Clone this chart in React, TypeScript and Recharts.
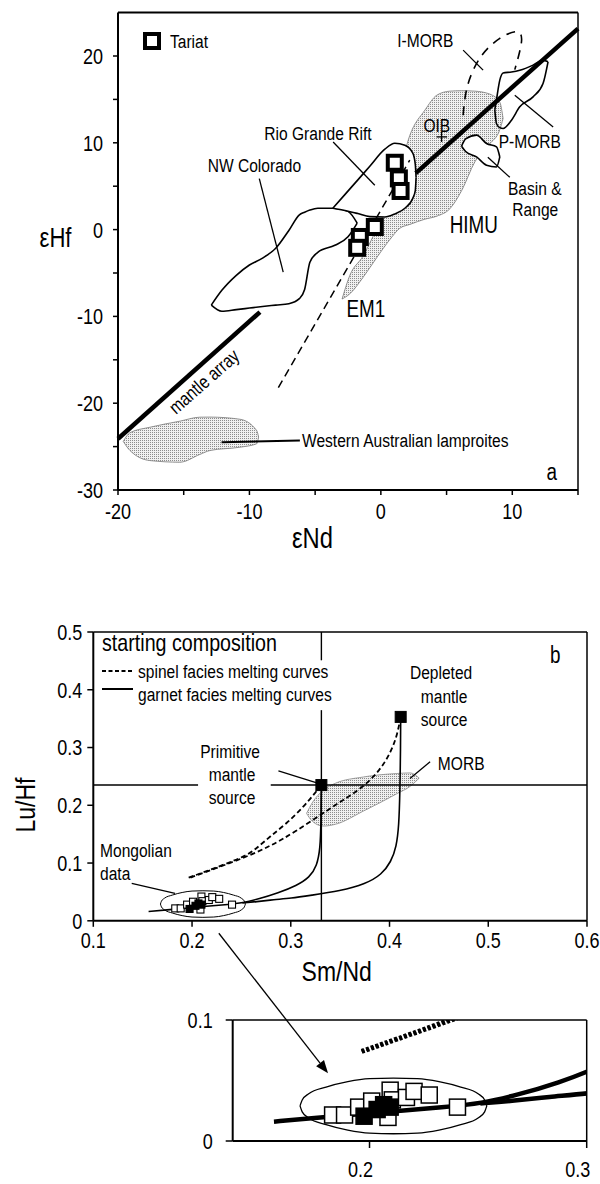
import React from "react";
import {
  ComposedChart,
  XAxis,
  YAxis,
  Line,
  Area,
  Scatter,
  ReferenceLine,
  Legend,
} from "recharts";

const FONT = '"Liberation Sans", Arial, sans-serif';
const SQUEEZE = 0.82; // the figure uses a condensed face

// ---------- panel a : eNd vs eHf ----------
const ticksNd = [-20, -15, -10, -5, 0, 5, 10, 15];
const ticksHf = [-30, -25, -20, -15, -10, -5, 0, 5, 10, 15, 20];

const mantleArrayLow = [
  { x: -20, y: -24.1 },
  { x: -9.2, y: -9.5 },
];
const mantleArrayHigh = [
  { x: 2.66, y: 6.5 },
  { x: 15, y: 23.15 },
];
const tariatTrend = [
  { x: -7.8, y: -18.2 },
  { x: 2.2, y: 8.0 },
];
const tariat = [
  { x: 1.06, y: 7.7 },
  { x: 1.37, y: 5.9 },
  { x: 1.5, y: 4.45 },
  { x: -0.46, y: 0.3 },
  { x: -1.6, y: -0.85 },
  { x: -1.8, y: -2.1 },
];

// fields as bands: lo / hi eHf for each eNd
const oibField = [
  { x: -2.95, lo: -8.0, hi: -8.0 },
  { x: -2.36, lo: -7.4, hi: -5.27 },
  { x: -1.37, lo: -5.54, hi: -3.08 },
  { x: -0.3, lo: -3.2, hi: 0.15 },
  { x: 0.68, lo: -1.16, hi: 3.38 },
  { x: 1.44, lo: 0.15, hi: 6.84 },
  { x: 2.21, lo: 0.6, hi: 10.88 },
  { x: 3.35, lo: 1.2, hi: 13.76 },
  { x: 4.26, lo: 1.55, hi: 15.49 },
  { x: 5.25, lo: 2.4, hi: 15.95 },
  { x: 6.16, lo: 4.53, hi: 16.0 },
  { x: 7.15, lo: 7.8, hi: 15.95 },
  { x: 8.29, lo: 9.88, hi: 15.61 },
  { x: 9.05, lo: 11.5, hi: 14.68 },
  { x: 9.3, lo: 12.8, hi: 12.8 },
];
const nwColorado = [
  { x: -12.9, lo: -8.7, hi: -8.7 },
  { x: -12.1, lo: -9.4, hi: -7.0 },
  { x: -11, lo: -9.22, hi: -5.27 },
  { x: -10, lo: -9.04, hi: -4.08 },
  { x: -9, lo: -8.86, hi: -3.28 },
  { x: -8, lo: -8.7, hi: -2.15 },
  { x: -7, lo: -8.54, hi: -0.1 },
  { x: -6.2, lo: -7.96, hi: 1.7 },
  { x: -5.8, lo: -6.9, hi: 2.0 },
  { x: -5.4, lo: -3.77, hi: 2.25 },
  { x: -4.8, lo: -2.62, hi: 2.46 },
  { x: -3.5, lo: -1.81, hi: 2.46 },
  { x: -2.5, lo: -0.83, hi: 2.1 },
  { x: -1.8, lo: 0.75, hi: 0.75 },
];
const rioGrande = [
  { x: -3.65, lo: 2.46, hi: 2.46 },
  { x: -2.74, lo: 2.2, hi: 4.03 },
  { x: -1.75, lo: 1.85, hi: 5.73 },
  { x: -0.84, lo: 1.5, hi: 7.3 },
  { x: 0.3, lo: 1.45, hi: 9.26 },
  { x: 1.06, lo: 1.8, hi: 9.95 },
  { x: 1.83, lo: 2.46, hi: 9.72 },
  { x: 2.43, lo: 3.6, hi: 8.8 },
  { x: 2.62, lo: 4.5, hi: 7.5 },
  { x: 2.68, lo: 6.0, hi: 6.0 },
];
const basinRange = [
  { x: 6.14, lo: 9.6, hi: 9.6 },
  { x: 6.45, lo: 9.0, hi: 10.45 },
  { x: 7.28, lo: 8.37, hi: 10.88 },
  { x: 8.04, lo: 7.42, hi: 9.92 },
  { x: 8.8, lo: 7.22, hi: 9.53 },
  { x: 9.05, lo: 8.37, hi: 8.37 },
];
const pMorb = [
  { x: 8.67, lo: 13.8, hi: 13.8 },
  { x: 8.8, lo: 12.2, hi: 15.0 },
  { x: 9.05, lo: 11.75, hi: 17.22 },
  { x: 9.3, lo: 11.65, hi: 18.05 },
  { x: 9.94, lo: 12.61, hi: 18.15 },
  { x: 10.57, lo: 14.14, hi: 18.35 },
  { x: 11.58, lo: 15.29, hi: 18.95 },
  { x: 12.34, lo: 16.84, hi: 19.53 },
  { x: 12.72, lo: 19.33, hi: 19.33 },
];
const waLamproites = [
  { x: -19.6, lo: -24.4, hi: -24.4 },
  { x: -19.09, lo: -25.45, hi: -23.4 },
  { x: -17.57, lo: -26.61, hi: -22.77 },
  { x: -15.29, lo: -26.8, hi: -22.07 },
  { x: -13.77, lo: -25.9, hi: -21.61 },
  { x: -13.0, lo: -25.45, hi: -21.6 },
  { x: -10.72, lo: -25.07, hi: -21.85 },
  { x: -9.45, lo: -24.68, hi: -23.15 },
  { x: -9.3, lo: -23.9, hi: -23.9 },
];
const iMorbArc = [
  { x: 6.26, y: 13.18 },
  { x: 6.6, y: 16.6 },
  { x: 7.6, y: 19.9 },
  { x: 9.05, y: 22.03 },
  { x: 10.32, y: 22.79 },
  { x: 10.7, y: 21.64 },
  { x: 10.19, y: 18.43 },
];
const leadersA = [
  [{ x: 6.26, y: 20.68 }, { x: 7.78, y: 18.37 }],
  [{ x: 10.19, y: 15.49 }, { x: 13.11, y: 11.83 }],
  [{ x: 8.14, y: 8.33 }, { x: 9.81, y: 6.02 }],
  [{ x: -3.63, y: 10.1 }, { x: -0.46, y: 5.11 }],
  [{ x: -9.25, y: 5.88 }, { x: -7.43, y: -4.89 }],
  [{ x: 4.62, y: 11.26 }, { x: 4.62, y: 10.1 }],
  [{ x: 4.24, y: 10.68 }, { x: 5.04, y: 10.68 }],
];
const waLeader = [{ x: -12.12, y: -24.5 }, { x: -6.16, y: -24.3 }];
const notesA = [
  { x: 3.38, y: 21.03, text: "I-MORB" },
  { x: 4.26, y: 11.22, text: "OIB" },
  { x: 11.33, y: 9.37, text: "P-MORB" },
  { x: 11.71, y: 3.96, text: "Basin &" },
  { x: 11.75, y: 1.53, text: "Range" },
  { x: 7.07, y: -0.43, text: "HIMU", kind: "big" },
  { x: -4.79, y: 10.3, text: "Rio Grande Rift" },
  { x: -9.62, y: 6.6, text: "NW Colorado" },
  { x: -1.14, y: -10.06, text: "EM1", kind: "big" },
  { x: -13.46, y: -17.5, text: "mantle array", kind: "rot" },
  { x: -6.0, y: -25.1, text: "Western Australian lamproites", kind: "start" },
  { x: 13.0, y: -28.8, text: "a", kind: "big" },
];

// ---------- panel b : Sm/Nd vs Lu/Hf ----------
const ticksSmNd = [0.1, 0.2, 0.3, 0.4, 0.5, 0.6];
const ticksLuHf = [0, 0.1, 0.2, 0.3, 0.4, 0.5];
const ticksInsetX = [0.2, 0.3];
const ticksInsetY = [0, 0.1];

const sources = [
  { x: 0.331, y: 0.235 },
  { x: 0.4113, y: 0.353 },
];
const spinelFromPrimitive = [
  { x: 0.331, y: 0.235 },
  { x: 0.3229, y: 0.2176 },
  { x: 0.3128, y: 0.1974 },
  { x: 0.296, y: 0.1687 },
  { x: 0.279, y: 0.146 },
  { x: 0.265, y: 0.125 },
  { x: 0.2554, y: 0.113 },
  { x: 0.2284, y: 0.0945 },
  { x: 0.1963, y: 0.0745 },
];
const spinelFromDepleted = [
  { x: 0.4113, y: 0.353 },
  { x: 0.4074, y: 0.3185 },
  { x: 0.4006, y: 0.2898 },
  { x: 0.3905, y: 0.2609 },
  { x: 0.3736, y: 0.232 },
  { x: 0.3533, y: 0.209 },
  { x: 0.3398, y: 0.1946 },
  { x: 0.3026, y: 0.152 },
  { x: 0.28, y: 0.13 },
  { x: 0.2554, y: 0.111 },
  { x: 0.2284, y: 0.0936 },
  { x: 0.1963, y: 0.0735 },
];
const garnetFromPrimitive = [
  { x: 0.331, y: 0.235 },
  { x: 0.3306, y: 0.17 },
  { x: 0.3298, y: 0.125 },
  { x: 0.3265, y: 0.095 },
  { x: 0.319, y: 0.075 },
  { x: 0.306, y: 0.061 },
  { x: 0.287, y: 0.048 },
  { x: 0.268, y: 0.038 },
  { x: 0.251, y: 0.031 },
  { x: 0.237, y: 0.0284 },
  { x: 0.2, y: 0.0229 },
  { x: 0.173, y: 0.0187 },
  { x: 0.156, y: 0.016 },
];
const garnetFromDepleted = [
  { x: 0.4113, y: 0.353 },
  { x: 0.4112, y: 0.3 },
  { x: 0.4105, y: 0.22 },
  { x: 0.4095, y: 0.165 },
  { x: 0.407, y: 0.128 },
  { x: 0.4015, y: 0.102 },
  { x: 0.392, y: 0.08 },
  { x: 0.376, y: 0.064 },
  { x: 0.35, y: 0.0515 },
  { x: 0.32, y: 0.044 },
  { x: 0.3, y: 0.039 },
  { x: 0.283, y: 0.0366 },
  { x: 0.265, y: 0.033 },
  { x: 0.251, y: 0.031 },
];
const morbField = [
  { x: 0.316, lo: 0.186, hi: 0.186 },
  { x: 0.322, lo: 0.172, hi: 0.205 },
  { x: 0.333, lo: 0.164, hi: 0.226 },
  { x: 0.345, lo: 0.167, hi: 0.238 },
  { x: 0.3736, lo: 0.19, hi: 0.249 },
  { x: 0.4074, lo: 0.22, hi: 0.255 },
  { x: 0.421, lo: 0.233, hi: 0.256 },
  { x: 0.43, lo: 0.247, hi: 0.247 },
];
const mongolianField = [
  { x: 0.168, lo: 0.029, hi: 0.029 },
  { x: 0.169, lo: 0.0241, hi: 0.0339 },
  { x: 0.172, lo: 0.019, hi: 0.039 },
  { x: 0.18, lo: 0.0135, hi: 0.0445 },
  { x: 0.19, lo: 0.009, hi: 0.049 },
  { x: 0.2, lo: 0.0065, hi: 0.0515 },
  { x: 0.211, lo: 0.006, hi: 0.052 },
  { x: 0.222, lo: 0.0065, hi: 0.0515 },
  { x: 0.232, lo: 0.009, hi: 0.049 },
  { x: 0.242, lo: 0.0135, hi: 0.0445 },
  { x: 0.25, lo: 0.019, hi: 0.039 },
  { x: 0.253, lo: 0.0241, hi: 0.0339 },
  { x: 0.254, lo: 0.029, hi: 0.029 },
];
const mongolianOpen = [
  { x: 0.183, y: 0.0215 },
  { x: 0.1885, y: 0.0215 },
  { x: 0.195, y: 0.028 },
  { x: 0.201, y: 0.033 },
  { x: 0.2085, y: 0.0195 },
  { x: 0.2095, y: 0.042 },
  { x: 0.2105, y: 0.034 },
  { x: 0.217, y: 0.036 },
  { x: 0.2205, y: 0.041 },
  { x: 0.2275, y: 0.038 },
  { x: 0.2405, y: 0.028 },
];
const mongolianFilled = [
  { x: 0.1975, y: 0.0205 },
  { x: 0.2035, y: 0.026 },
  { x: 0.2095, y: 0.028 },
  { x: 0.2065, y: 0.03 },
];
const primitiveLines = [
  [{ x: 0.331, y: 0 }, { x: 0.331, y: 0.3647 }],
  [{ x: 0.331, y: 0.451 }, { x: 0.331, y: 0.5 }],
  [{ x: 0.1, y: 0.235 }, { x: 0.2061, y: 0.235 }],
  [{ x: 0.2797, y: 0.235 }, { x: 0.6, y: 0.235 }],
];
const leadersB = [
  [{ x: 0.2875, y: 0.2597 }, { x: 0.328, y: 0.2379 }],
  [{ x: 0.4411, y: 0.2753 }, { x: 0.4207, y: 0.2465 }],
  [{ x: 0.1389, y: 0.0649 }, { x: 0.1828, y: 0.0476 }],
];
const insetArrow = [{ x: 0.1306, y: 0.1717 }, { x: 0.1809, y: 0.0559 }];
const notesB = [
  { x: 0.2385, y: 0.2815, text: "Primitive" },
  { x: 0.2405, y: 0.242, text: "mantle" },
  { x: 0.2405, y: 0.2015, text: "source" },
  { x: 0.4522, y: 0.4183, text: "Depleted" },
  { x: 0.4553, y: 0.3768, text: "mantle" },
  { x: 0.4553, y: 0.337, text: "source" },
  { x: 0.4726, y: 0.2609, text: "MORB" },
  { x: 0.1068, y: 0.1104, text: "Mongolian", kind: "start" },
  { x: 0.1068, y: 0.0706, text: "data", kind: "start" },
  { x: 0.5678, y: 0.446, text: "b", kind: "big" },
];

// ---------- helpers ----------
const band = (d: any) => [d.lo, d.hi];

// condensed text: squeeze horizontally around its anchor point
const NT = ({ x, y, size, anchor = "middle", angle = 0, dy = 0, central = false, children }: any) => (
  <g transform={`translate(${x},${y}) rotate(${angle}) scale(${SQUEEZE},1)`}>
    <text
      x={0}
      y={dy}
      fontSize={size}
      textAnchor={anchor}
      dominantBaseline={central ? "central" : undefined}
      fill="#000"
      fontFamily={FONT}
    >
      {children}
    </text>
  </g>
);

const noteStyle: Record<string, { size: number; anchor: string; angle?: number }> = {
  label: { size: 19, anchor: "middle" },
  start: { size: 19, anchor: "start" },
  big: { size: 23, anchor: "middle" },
  rot: { size: 19, anchor: "middle", angle: -41.5 },
};

const renderNote = (props: any) => {
  const { cx, cy, payload } = props;
  const st = noteStyle[payload.kind || "label"];
  return (
    <NT x={cx} y={cy} size={st.size} anchor={st.anchor} angle={st.angle || 0} central={!!st.angle}>
      {payload.text}
    </NT>
  );
};

const squareShape = (size: number, sw: number, fill: string) => (props: any) => {
  const { cx, cy } = props;
  return (
    <rect
      x={cx - size / 2}
      y={cy - size / 2}
      width={size}
      height={size}
      fill={fill}
      stroke="#000"
      strokeWidth={sw}
    />
  );
};

const arrowShape = (p: any) => {
  const { x1, y1, x2, y2 } = p;
  const a = Math.atan2(y2 - y1, x2 - x1);
  const L = 13;
  const W = 5;
  const bx = x2 - L * Math.cos(a);
  const by = y2 - L * Math.sin(a);
  return (
    <g>
      <line x1={x1} y1={y1} x2={bx} y2={by} stroke="#000" strokeWidth={1.3} />
      <polygon
        points={`${x2},${y2} ${bx + W * Math.sin(a)},${by - W * Math.cos(a)} ${bx - W * Math.sin(a)},${by + W * Math.cos(a)}`}
        fill="#000"
      />
    </g>
  );
};

const title = (text: string, dx: number, dy: number, size: number, angle = 0) => (props: any) => {
  const vb = props.viewBox || {};
  return (
    <NT x={vb.x + vb.width / 2 + dx} y={vb.y + vb.height / 2 + dy} size={size} angle={angle} central>
      {text}
    </NT>
  );
};

const fmtTen = (v: number) => (v % 10 === 0 ? String(v) : "");
const fmtDec = (v: number) => (v === 0 ? "0" : v.toFixed(1));
const TICK = 22;

const xTick = (fmt: (v: number) => string, dx = 0) => (p: any) => (
  <NT x={p.x + dx} y={p.y} size={TICK} dy={TICK * 0.72}>
    {fmt(p.payload.value)}
  </NT>
);
const yTick = (fmt: (v: number) => string) => (p: any) => (
  <NT x={p.x} y={p.y} size={TICK} anchor="end" dy={TICK * 0.36}>
    {fmt(p.payload.value)}
  </NT>
);

const Stipple = ({ id }: { id: string }) => (
  <defs>
    <pattern id={id} width="2" height="2" patternUnits="userSpaceOnUse">
      <rect width="2" height="2" fill="#f0f0f0" />
      <rect width="1" height="1" fill="#8c8c8c" />
    </pattern>
  </defs>
);

const TariatKey = () => (
  <svg width={80} height={24} style={{ display: "block", overflow: "visible" }}>
    <rect x={3} y={3} width={14} height={14} fill="#fff" stroke="#000" strokeWidth={4} />
    <NT x={28} y={17} size={19} anchor="start">
      Tariat
    </NT>
  </svg>
);

const MeltKey = () => (
  <svg width={240} height={78} style={{ display: "block", overflow: "visible" }}>
    <NT x={0} y={22} size={24} anchor="start">
      starting composition
    </NT>
    <line x1={0} y1={42} x2={30} y2={42} stroke="#000" strokeWidth={1.8} strokeDasharray="4 2.5" />
    <NT x={36} y={49} size={19} anchor="start">
      spinel facies melting curves
    </NT>
    <line x1={0} y1={60} x2={31} y2={60} stroke="#000" strokeWidth={2} />
    <NT x={36} y={72} size={19} anchor="start">
      garnet facies melting curves
    </NT>
  </svg>
);

function PanelA() {
  return (
    <ComposedChart width={600} height={560} margin={{ top: 12.6, right: 22, bottom: 0, left: 0 }}>
      <Stipple id="stipA" />
      <XAxis
        dataKey="x"
        type="number"
        domain={[-20, 15]}
        ticks={ticksNd}
        height={70}
        tickSize={5}
        tickMargin={8}
        stroke="#000"
        axisLine={{ strokeWidth: 2 }}
        tickLine={{ strokeWidth: 1.5 }}
        tick={xTick(fmtTen)}
        label={{ content: title("εNd", -35.5, 13, 29) }}
      />
      <YAxis
        dataKey="y"
        type="number"
        domain={[-30, 25]}
        ticks={ticksHf}
        width={118}
        tickSize={5}
        tickMargin={10}
        stroke="#000"
        axisLine={{ strokeWidth: 2 }}
        tickLine={{ strokeWidth: 1.5 }}
        tick={yTick(fmtTen)}
        label={{ content: title("εHf", -3.5, -13.3, 27) }}
      />
      <ReferenceLine x={15} stroke="#000" strokeWidth={1.5} />
      <ReferenceLine y={25} stroke="#000" strokeWidth={2} />
      <Legend
        layout="vertical"
        align="center"
        verticalAlign="middle"
        content={() => <TariatKey />}
        wrapperStyle={{ left: 142, top: 31, width: "auto" }}
      />
      <Area data={oibField} dataKey={band} type="monotone" stroke="#777" strokeWidth={0.8} fill="url(#stipA)" fillOpacity={1} dot={false} activeDot={false} isAnimationActive={false} />
      <Area data={waLamproites} dataKey={band} type="monotone" stroke="#777" strokeWidth={0.8} fill="url(#stipA)" fillOpacity={1} dot={false} activeDot={false} isAnimationActive={false} />
      <Line data={mantleArrayLow} dataKey="y" type="linear" stroke="#000" strokeWidth={4.5} dot={false} activeDot={false} isAnimationActive={false} />
      <Line data={mantleArrayHigh} dataKey="y" type="linear" stroke="#000" strokeWidth={4.5} dot={false} activeDot={false} isAnimationActive={false} />
      <Area data={nwColorado} dataKey={band} type="monotone" stroke="#000" strokeWidth={1.6} fill="#fff" fillOpacity={1} dot={false} activeDot={false} isAnimationActive={false} />
      <Area data={rioGrande} dataKey={band} type="monotone" stroke="#000" strokeWidth={1.6} fill="#fff" fillOpacity={1} dot={false} activeDot={false} isAnimationActive={false} />
      <Area data={basinRange} dataKey={band} type="monotone" stroke="#000" strokeWidth={1.6} fill="#fff" fillOpacity={1} dot={false} activeDot={false} isAnimationActive={false} />
      <Area data={pMorb} dataKey={band} type="monotone" stroke="#000" strokeWidth={1.6} fill="none" dot={false} activeDot={false} isAnimationActive={false} />
      <Line data={iMorbArc} dataKey="y" type="natural" stroke="#000" strokeWidth={1.6} strokeDasharray="9 7" dot={false} activeDot={false} isAnimationActive={false} />
      <Line data={tariatTrend} dataKey="y" type="linear" stroke="#000" strokeWidth={1.5} strokeDasharray="8 5" dot={false} activeDot={false} isAnimationActive={false} />
      {leadersA.map((seg, i) => (
        <ReferenceLine key={i} segment={seg} stroke="#000" strokeWidth={1.3} ifOverflow="visible" />
      ))}
      <ReferenceLine segment={waLeader} stroke="#000" strokeWidth={2} ifOverflow="visible" />
      <Scatter data={tariat} shape={squareShape(14, 4, "#fff")} isAnimationActive={false} />
      <Scatter data={notesA} shape={renderNote} isAnimationActive={false} />
    </ComposedChart>
  );
}

function PanelB() {
  return (
    <ComposedChart width={600} height={390} margin={{ top: 32, right: 13, bottom: 0, left: 0 }}>
      <Stipple id="stipB" />
      <XAxis
        dataKey="x"
        type="number"
        domain={[0.1, 0.6]}
        ticks={ticksSmNd}
        height={69.2}
        tickSize={6}
        tickMargin={5}
        stroke="#000"
        axisLine={{ strokeWidth: 2 }}
        tickLine={{ strokeWidth: 1.5 }}
        tick={xTick(fmtDec)}
        label={{ content: title("Sm/Nd", -3.5, 15.6, 28) }}
      />
      <YAxis
        dataKey="y"
        type="number"
        domain={[0, 0.5]}
        ticks={ticksLuHf}
        width={93.3}
        tickSize={6}
        tickMargin={5}
        stroke="#000"
        axisLine={{ strokeWidth: 2 }}
        tickLine={{ strokeWidth: 1.5 }}
        tick={yTick(fmtDec)}
        label={{ content: title("Lu/Hf", -21, 28.6, 28, -90) }}
      />
      <ReferenceLine x={0.6} stroke="#000" strokeWidth={1.5} />
      <ReferenceLine y={0.5} stroke="#000" strokeWidth={1.5} />
      <Legend
        layout="vertical"
        align="center"
        verticalAlign="middle"
        content={() => <MeltKey />}
        wrapperStyle={{ left: 101.7, top: 29, width: "auto" }}
      />
      <Area data={morbField} dataKey={band} type="monotone" stroke="#888" strokeWidth={0.8} fill="url(#stipB)" fillOpacity={1} dot={false} activeDot={false} isAnimationActive={false} />
      {primitiveLines.map((seg, i) => (
        <ReferenceLine key={i} segment={seg} stroke="#000" strokeWidth={1.4} ifOverflow="visible" />
      ))}
      <Line data={spinelFromPrimitive} dataKey="y" type="basis" stroke="#000" strokeWidth={1.8} strokeDasharray="5 3" dot={false} activeDot={false} isAnimationActive={false} />
      <Line data={spinelFromDepleted} dataKey="y" type="basis" stroke="#000" strokeWidth={1.8} strokeDasharray="5 3" dot={false} activeDot={false} isAnimationActive={false} />
      <Line data={garnetFromPrimitive} dataKey="y" type="basis" stroke="#000" strokeWidth={1.6} dot={false} activeDot={false} isAnimationActive={false} />
      <Line data={garnetFromDepleted} dataKey="y" type="basis" stroke="#000" strokeWidth={1.6} dot={false} activeDot={false} isAnimationActive={false} />
      <Area data={mongolianField} dataKey={band} type="monotone" stroke="#000" strokeWidth={1} fill="none" dot={false} activeDot={false} isAnimationActive={false} />
      {leadersB.map((seg, i) => (
        <ReferenceLine key={i} segment={seg} stroke="#000" strokeWidth={1.3} ifOverflow="visible" />
      ))}
      <Scatter data={mongolianOpen} shape={squareShape(7, 1.1, "#fff")} isAnimationActive={false} />
      <Scatter data={mongolianFilled} shape={squareShape(7, 1.1, "#000")} isAnimationActive={false} />
      <Scatter data={sources} shape={squareShape(11, 1, "#000")} isAnimationActive={false} />
      <Scatter data={notesB} shape={renderNote} isAnimationActive={false} />
    </ComposedChart>
  );
}

function Inset() {
  return (
    <ComposedChart width={600} height={259} margin={{ top: 95, right: 13.3, bottom: 0, left: 0 }}>
      <XAxis
        dataKey="x"
        type="number"
        domain={[0.137, 0.3]}
        allowDataOverflow
        ticks={ticksInsetX}
        height={43}
        tickSize={7}
        tickMargin={13}
        stroke="#000"
        axisLine={{ strokeWidth: 2 }}
        tickLine={{ strokeWidth: 1.5 }}
        tick={xTick(fmtDec, -9)}
      />
      <YAxis
        dataKey="y"
        type="number"
        domain={[0, 0.1]}
        allowDataOverflow
        ticks={ticksInsetY}
        width={232.7}
        tickSize={7}
        tickMargin={13}
        stroke="#000"
        axisLine={{ strokeWidth: 2 }}
        tickLine={{ strokeWidth: 1.5 }}
        tick={yTick(fmtDec)}
      />
      <ReferenceLine x={0.3} stroke="#000" strokeWidth={1.5} />
      <ReferenceLine y={0.1} stroke="#000" strokeWidth={1.5} />
      <Line data={spinelFromPrimitive} dataKey="y" type="basis" stroke="#000" strokeWidth={4} strokeDasharray="3 2" dot={false} activeDot={false} isAnimationActive={false} />
      <Line data={spinelFromDepleted} dataKey="y" type="basis" stroke="#000" strokeWidth={4} strokeDasharray="3 2" dot={false} activeDot={false} isAnimationActive={false} />
      <Line data={garnetFromPrimitive} dataKey="y" type="basis" stroke="#000" strokeWidth={4.5} dot={false} activeDot={false} isAnimationActive={false} />
      <Line data={garnetFromDepleted} dataKey="y" type="basis" stroke="#000" strokeWidth={4.5} dot={false} activeDot={false} isAnimationActive={false} />
      <Area data={mongolianField} dataKey={band} type="monotone" stroke="#000" strokeWidth={1.3} fill="none" dot={false} activeDot={false} isAnimationActive={false} />
      <Scatter data={mongolianOpen} shape={squareShape(16, 1.5, "#fff")} isAnimationActive={false} />
      <Scatter data={mongolianFilled} shape={squareShape(16, 1.5, "#000")} isAnimationActive={false} />
      <ReferenceLine segment={insetArrow} shape={arrowShape} ifOverflow="visible" />
    </ComposedChart>
  );
}

export default function App() {
  return (
    <div
      style={{
        position: "absolute",
        left: 0,
        top: 0,
        width: 600,
        height: 1184,
        background: "#fff",
        fontFamily: FONT,
      }}
    >
      <div style={{ position: "absolute", left: 0, top: 0 }}>
        <PanelA />
      </div>
      <div style={{ position: "absolute", left: 0, top: 600 }}>
        <PanelB />
      </div>
      <div style={{ position: "absolute", left: 0, top: 925 }}>
        <Inset />
      </div>
    </div>
  );
}
